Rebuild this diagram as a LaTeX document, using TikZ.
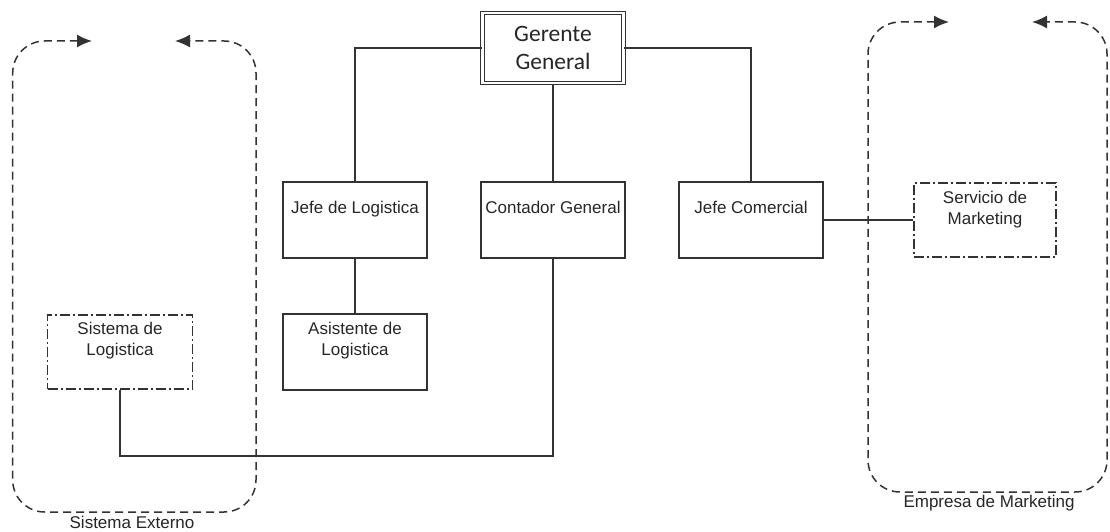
\documentclass[tikz,border=0pt]{standalone}
\usepackage{fontspec}
\setmainfont{Liberation Sans}
\newfontfamily\calibri{Carlito}
\usetikzlibrary{arrows.meta}

\begin{document}
\begin{tikzpicture}[x=1pt,y=-1pt,
	caja/.style={draw=black!80, line width=1.4pt, minimum width=144pt, minimum height=76pt, inner sep=0pt},
	cajaext/.style={draw=black!80, line width=1.4pt, dash pattern=on 10pt off 3pt on 2pt off 3pt, minimum width=145pt, minimum height=74pt, inner sep=0pt},
	rotulo/.style={anchor=north, inner xsep=0pt, align=center, font=\fontsize{17}{21}\selectfont, text=black!85},
	linea/.style={draw=black!80, line width=1.4pt},
	limite/.style={draw=black!80, line width=1.5pt, dash pattern=on 8pt off 5pt, rounded corners=32pt, >={Latex[length=15pt,width=13pt]}, <->}
	]
	\useasboundingbox (0,0) rectangle (1110,532);
	
	% limites de los sistemas externos
	\draw[limite] (92,41) -- (12.7,41) -- (12.7,512) -- (256,512) -- (256,41) -- (175,41);
	\draw[limite] (949,22) -- (868,22) -- (868,492) -- (1107,492) -- (1107,22) -- (1032,22);
	\node[rotulo, anchor=center] (etqexterno) at (132,522) {Sistema Externo};
	\node[rotulo, anchor=center] (etqempresa) at (989,503) {Empresa de Marketing};
	
	% organigrama
	\node[draw=black!80, double, line width=1.1pt, double distance=2.2pt, minimum width=141pt, minimum height=70pt, align=center,
	font=\calibri\fontsize{23.5}{28}\selectfont, text=black!85] (gerente) at (553,48) {Gerente\\General};
	
	\node[caja, label={[rotulo, inner ysep=20pt]north:Jefe de Logistica}] (jlogistica) at (355,220) {};
	\node[caja, label={[rotulo, inner ysep=20pt]north:Contador General}] (contador) at (553,220) {};
	\node[caja, label={[rotulo, inner ysep=20pt]north:Jefe Comercial}] (jcomercial) at (751,220) {};
	\node[caja, label={[rotulo, inner ysep=9pt]north:{Asistente de\\Logistica}}] (asistente) at (355,352) {};
	
	\node[cajaext, label={[rotulo, inner ysep=8pt]north:{Sistema de\\Logistica}}] (slogistica) at (120,352) {};
	\node[cajaext, minimum width=142pt, label={[rotulo, inner ysep=9pt]north:{Servicio de\\Marketing}}] (smarketing) at (985,220) {};
	
	\draw[linea] (gerente.west) -| (jlogistica.north);
	\draw[linea] (gerente.east) -| (jcomercial.north);
	\draw[linea] (gerente.south) -- (contador.north);
	\draw[linea] (jlogistica.south) -- (asistente.north);
	\draw[linea] (jcomercial.east) -- (smarketing.west);
	
	\coordinate (retorno) at (553,456);
	\draw[linea] (contador.south) -- (retorno) -| (slogistica.south);
	
\end{tikzpicture}
\end{document}
